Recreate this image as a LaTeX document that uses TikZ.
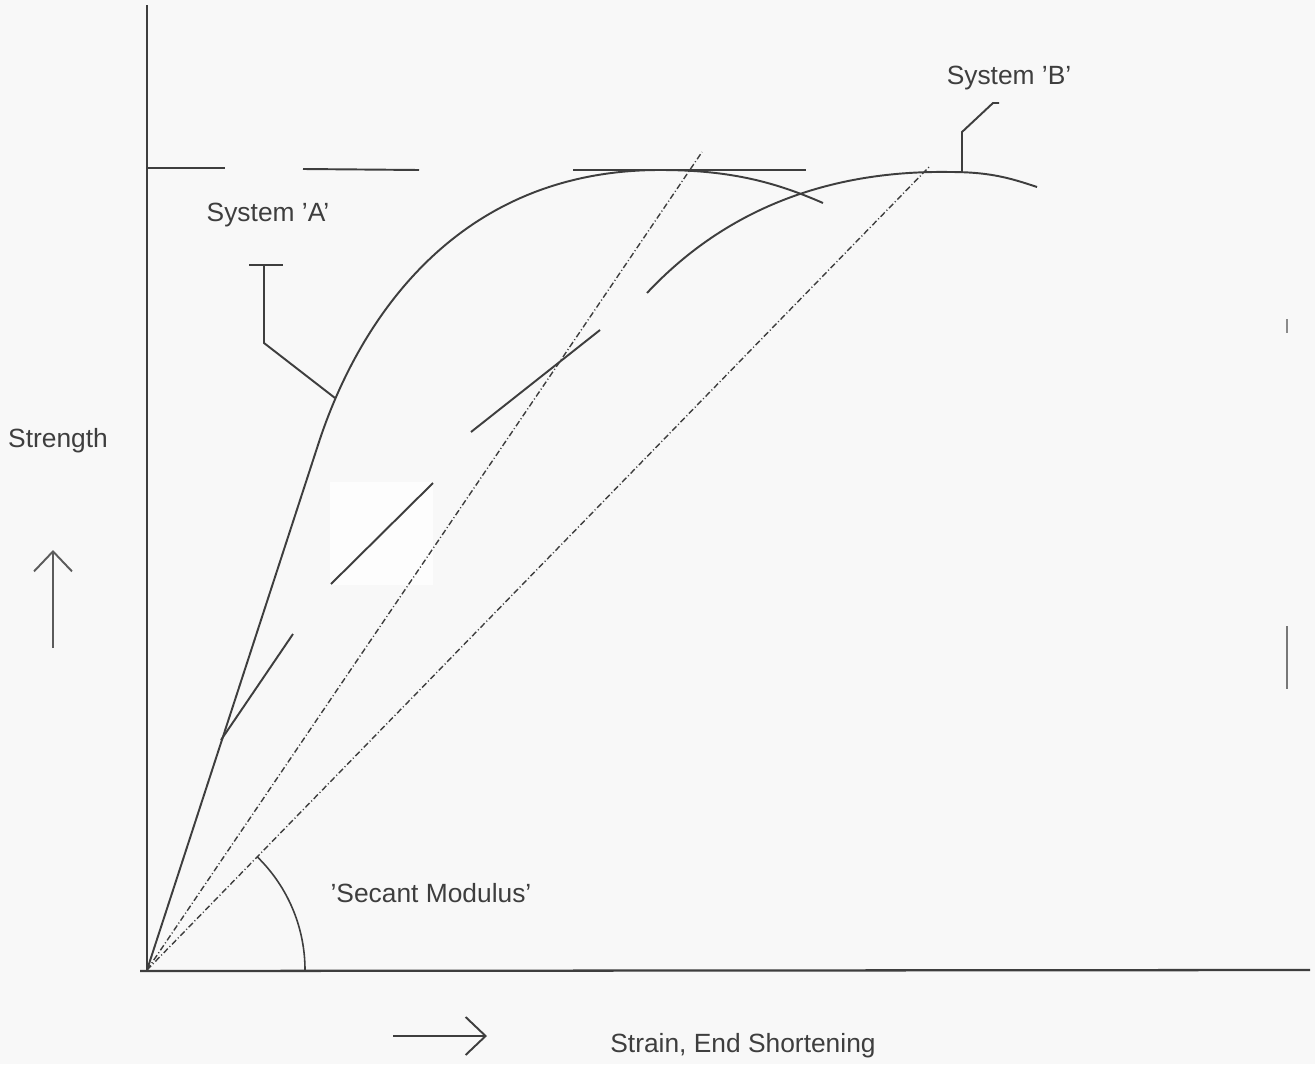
\documentclass[tikz,border=0pt]{standalone}
\usepackage{fontspec}
\setmainfont{Liberation Sans}
\usetikzlibrary{arrows.meta}
\definecolor{tratto}{RGB}{62,62,62}
\definecolor{sfondo}{RGB}{248,248,248}
\definecolor{toppa}{RGB}{253,253,253}

\begin{document}
\begin{tikzpicture}[x=0.1mm,y=-0.1mm,line width=0.55pt,color=tratto,
   secante/.style={line width=0.4pt,dash pattern=on 1.7pt off 0.7pt on 0.3pt off 0.7pt},
   etichetta/.style={inner sep=0pt,font=\fontsize{7.5}{9}\selectfont},
   freccia/.style={-{Straight Barb[length=2mm,width=3.8mm]}}]
% fondo
   \fill[sfondo] (0,0) rectangle (1315,1064);
   \useasboundingbox (0,0) rectangle (1315,1064);
   \fill[toppa] (330,482) rectangle (433,585);
% assi
   \coordinate (O) at (147,970); \coordinate (ytop) at (147,5);
   \coordinate (xend) at (1310,970);
   \draw (ytop) -- (O); \draw[line width=0.65pt] (140,971) -- (xend);
% livello massimo
   \draw (147,168) -- (225,168); \draw (303,169) -- (419,170);
   \draw (573,170) -- (806,170);
% curva A
   \coordinate (pA) at (335,398);
   \draw (O) -- (318,445) .. controls (355,330) and (450,170) ..
   (660,170) .. controls (730,170) and (775,182) .. (823,203);
% curva B
   \coordinate (pB) at (962,172);
   \draw (647,293) .. controls (720,215) and (820,170) .. (950,172)
   .. controls (990,172) and (1010,178) .. (1037,187);
% tangenti
   \draw (221,740) -- (293,634); \draw (331,584) -- (433,483);
   \draw (471,432) -- (600,330);
% moduli secanti
   \coordinate (sA) at (702,152); \coordinate (sB) at (930,166);
   \draw[secante] (O) -- (sA); \draw[secante] (O) -- (sB);
   \draw[line width=0.45pt] (O) ++(158,0) arc[start angle=0,end angle=-45.7,radius=158];
% etichette
   \node[etichetta] (sysA) at (268,215) {System 'A'};
   \node[etichetta] (sysB) at (1009,78) {System 'B'};
   \node[etichetta] (strength) at (58,441) {Strength};
   \node[etichetta] (secant) at (431,893) {'Secant Modulus'};
   \node[etichetta] (strain) at (743,1046) {Strain, End Shortening};
% richiami
   \draw (249,265) -- (283,265); \draw (264,265) -- (264,343) -- (pA);
   \draw (pB) -- (962,132) -- (993,103) -- (999,103);
% frecce
   \coordinate (su0) at (53,648); \coordinate (su1) at (53,550);
   \coordinate (dx0) at (393,1036); \coordinate (dx1) at (487,1036);
   \draw[freccia,color=tratto!85] (su0) -- (su1); \draw[freccia] (dx0) -- (dx1);
% segni sul bordo
   \draw[line width=0.4pt,color=tratto!70] (1287,626) -- (1287,689);
   \draw[line width=0.4pt,color=tratto!60] (1287,319) -- (1287,333);
\end{tikzpicture}
\end{document}
